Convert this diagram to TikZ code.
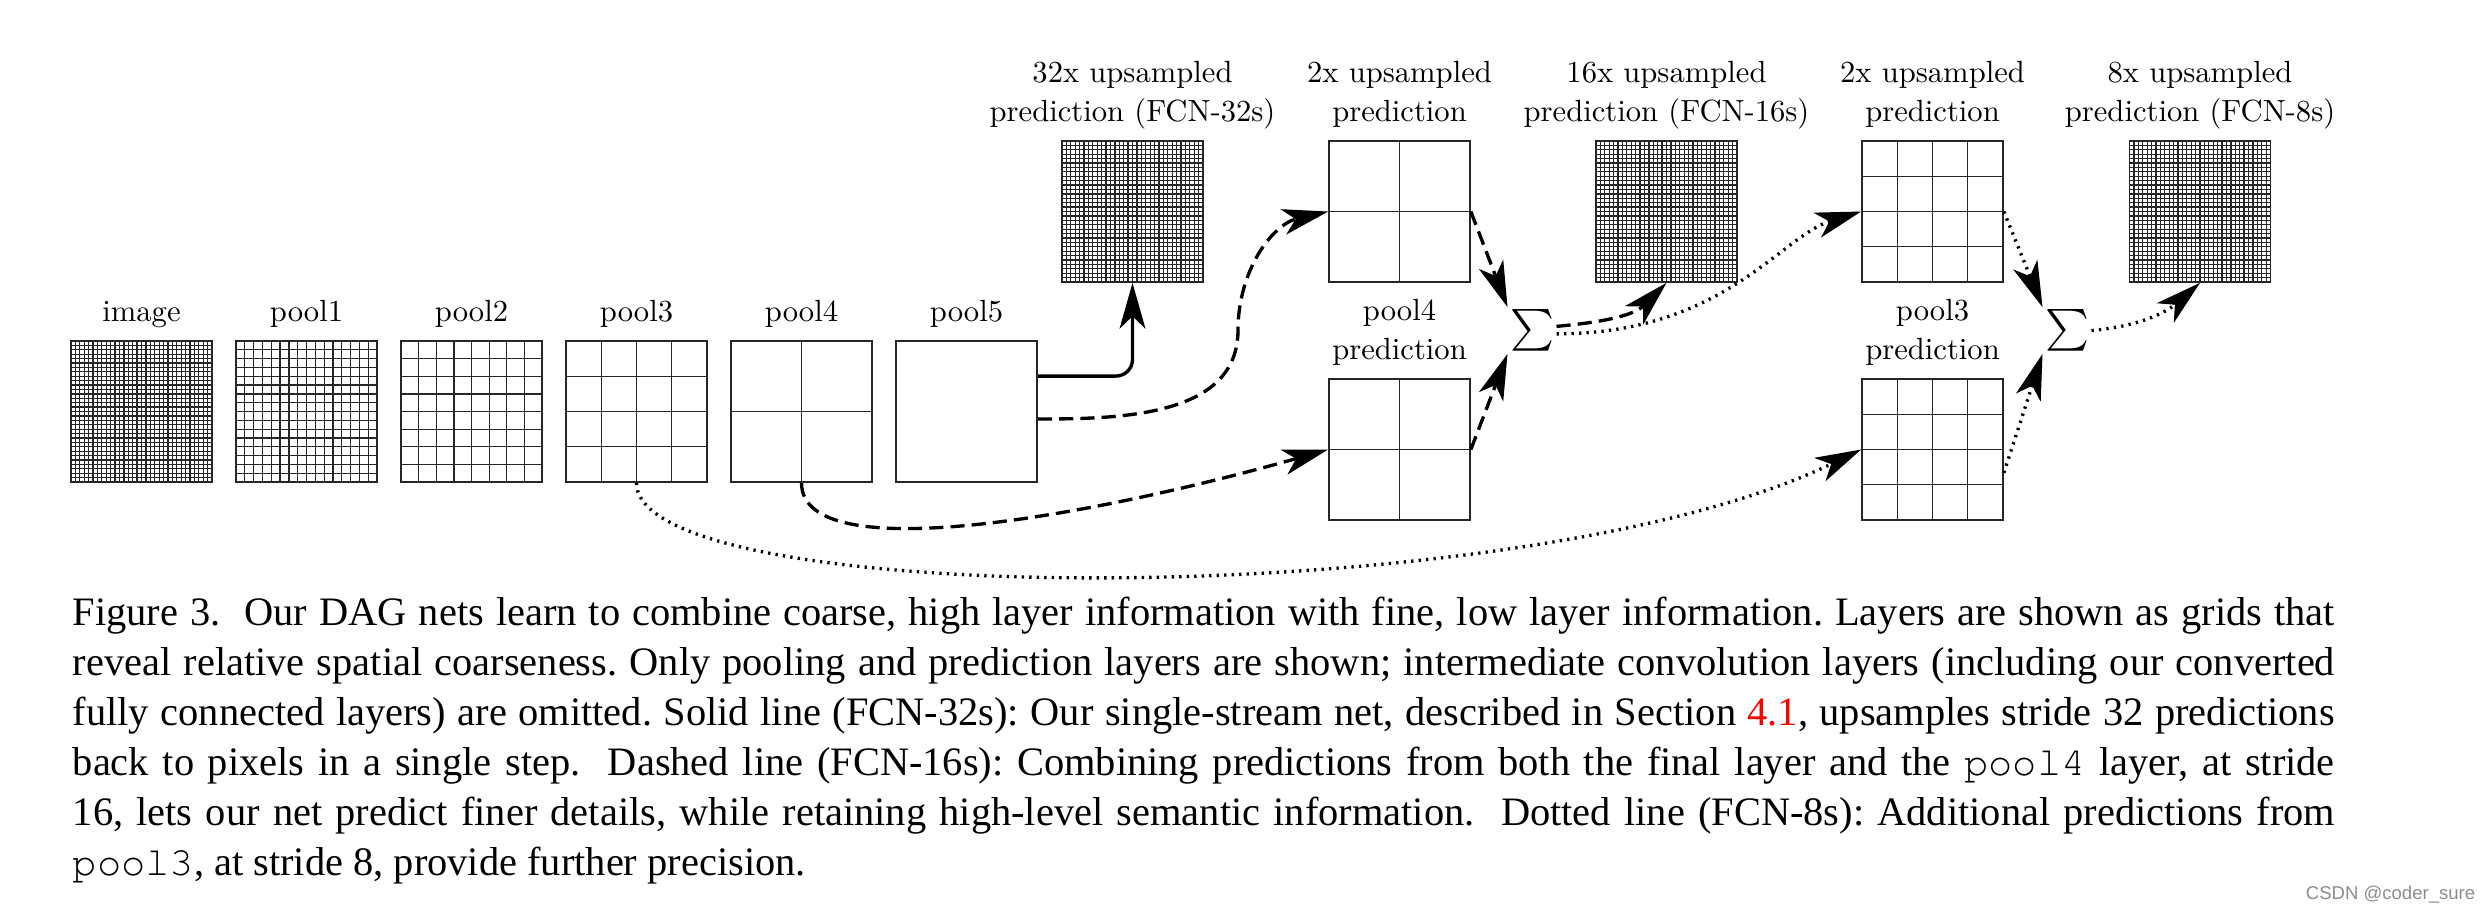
\documentclass[tikz,border=0pt]{standalone}
\usepackage{fontspec}
\newfontfamily\gridfont{lmroman10-regular}[Extension=.otf]
\newfontfamily\capfont{Liberation Serif}
\newfontfamily\capmono{texgyrecursor-regular}[Extension=.otf]
\newfontfamily\markfont{Liberation Sans}
\usetikzlibrary{arrows.meta}

\newcommand\gridlabelfont{\gridfont\fontsize{7.35}{9.36}\selectfont}

\tikzset{
	% one layer drawn as a square grid of #1 x #1 cells
	layer/.style={draw=black!85, line width=0.4pt, inner sep=0pt, minimum size=33.84pt,
		path picture={
			\foreach \k in {1,...,#1} {
				\draw[line width=0.3pt, black!85]
				([xshift=\k*33.84pt/#1]path picture bounding box.south west) --
				([xshift=\k*33.84pt/#1]path picture bounding box.north west);
				\draw[line width=0.3pt, black!85]
				([yshift=\k*33.84pt/#1]path picture bounding box.south west) --
				([yshift=\k*33.84pt/#1]path picture bounding box.south east);
			}
		}},
	lbl/.style={label={[label distance=4.4pt, inner sep=0pt, text depth=0pt,
			align=center, font=\gridlabelfont]above:#1}},
	sumnode/.style={inner sep=0.4pt, font=\gridlabelfont},
	% the three nets
	fcn32/.style={line width=0.8pt, -{Stealth[length=11pt, width=6.2pt, inset=3pt]}},
	fcn16/.style={fcn32, dash pattern=on 3.4pt off 1.7pt},
	fcn8/.style={fcn32, dash pattern=on 0.55pt off 1.25pt}
}

\begin{document}
\begin{tikzpicture}[x=0.24pt, y=0.24pt]
	
	\useasboundingbox (0,0) rectangle (2490,-914);
	
	% Pooling layers
	\node [layer=32, lbl=image] (image) at (141.5,-411.5) {};
	\node [layer=16, lbl=pool1] (pool1) at (306.5,-411.5) {};
	\node [layer=8, lbl=pool2] (pool2) at (471.5,-411.5) {};
	\node [layer=4, lbl=pool3] (pool3) at (636.5,-411.5) {};
	\node [layer=2, lbl=pool4] (pool4) at (801.5,-411.5) {};
	\node [layer=1, lbl=pool5] (pool5) at (966.5,-411.5) {};
	
	% Upsampled predictions
	\node [layer=32, lbl=32x upsampled\\prediction (FCN-32s)] (up32) at (1132.5,-211.5) {};
	\node [layer=2, lbl=2x upsampled\\prediction] (up2a) at (1399.5,-211.5) {};
	\node [layer=32, lbl=16x upsampled\\prediction (FCN-16s)] (up16) at (1666.5,-211.5) {};
	\node [layer=4, lbl=2x upsampled\\prediction] (up2b) at (1932.5,-211.5) {};
	\node [layer=32, lbl=8x upsampled\\prediction (FCN-8s)] (up8) at (2200,-211.5) {};
	
	% Skip predictions
	\node [layer=2, lbl=pool4\\prediction] (p4pred) at (1399.5,-449.5) {};
	\node [layer=4, lbl=pool3\\prediction] (p3pred) at (1932.5,-449.5) {};
	
	% Sums
	\node [sumnode] (sum1) at (1532,-330.5) {$\sum$};
	\node [sumnode] (sum2) at (2067,-330.5) {$\sum$};
	
	% FCN-32s
	\draw [fcn32, rounded corners=4pt] ([yshift=8.5pt]pool5.east) -| (up32.south);
	
	% FCN-16s
	\draw [fcn16] ([yshift=-1.8pt]pool5.east) to[out=0,in=-90] (1238,-330)
	to[out=90,in=193] (up2a.west);
	\draw [fcn16] (up2a.east) -- (sum1.north west);
	\draw [fcn16] (pool4.south) .. controls +(0,-88) and +(-229,-65) .. (p4pred.west);
	\draw [fcn16] (p4pred.east) -- (sum1.south west);
	\draw [fcn16] ([yshift=1pt]sum1.east) to[out=5,in=225] (up16.south);
	
	% FCN-8s
	\draw [fcn8] ([yshift=-0.8pt]sum1.east) .. controls +(167,0) and +(-81,-25) .. (up2b.west);
	\draw [fcn8] (pool3.south) .. controls +(0,-128) and +(-341,-165) .. (p3pred.west);
	\draw [fcn8] (up2b.east) -- (sum2.north west);
	\draw [fcn8] ([yshift=-5.6pt]p3pred.east) -- (sum2.south west);
	\draw [fcn8] (sum2.east) to[out=5,in=221] (up8.south);
	
	% Caption
	\node [anchor=base west, inner sep=0pt, text width=542.9pt, align=justify,
	font=\capfont\fontsize{9.7}{12}\selectfont] (caption) at (72,-625) {\frenchspacing
		Figure 3.\ \ Our DAG nets learn to combine coarse, high layer information with fine, low layer information. Layers are shown as grids that\linebreak
		reveal relative spatial coarseness. Only pooling and prediction layers are shown; intermediate convolution layers (including our converted\linebreak
		fully connected layers) are omitted. Solid line (FCN-32s): Our single-stream net, described in Section \textcolor{red}{4.1}, upsamples stride 32 predictions\linebreak
		back to pixels in a single step.\ \ Dashed line (FCN-16s): Combining predictions from both the final layer and the {\capmono pool4} layer, at stride\linebreak
		16, lets our net predict finer details, while retaining high-level semantic information.\ \ Dotted line (FCN-8s): Additional predictions from\linebreak
		{\capmono pool3}, at stride 8, provide further precision.};
	
	\node [anchor=east, inner sep=0pt, text=black!45, font=\markfont\fontsize{4.45}{5}\selectfont] (mark) at (2476,-895) {CSDN @coder\_sure};
	
\end{tikzpicture}
\end{document}
